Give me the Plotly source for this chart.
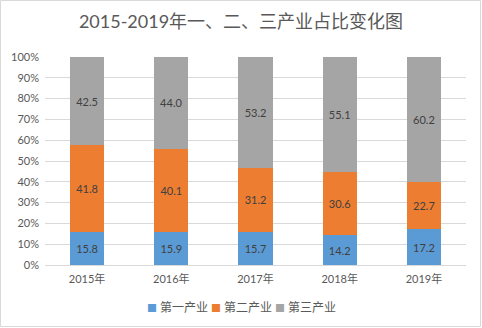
import plotly.graph_objects as go

# Industry share by year (percent)
years = ["2015年", "2016年", "2017年", "2018年", "2019年"]
primary = [15.8, 15.9, 15.7, 14.2, 17.2]
secondary = [41.8, 40.1, 31.2, 30.6, 22.7]
tertiary = [42.5, 44.0, 53.2, 55.1, 60.2]
series_names = ["第一产业", "第二产业", "第三产业"]
colors = ["#5B9BD5", "#ED7D31", "#A5A5A5"]

FONT = "Lato, 'Noto Sans CJK SC', sans-serif"

fig = go.Figure()
for name, vals, col in zip(series_names, [primary, secondary, tertiary], colors):
    fig.add_trace(go.Bar(
        x=years, y=vals, name=name,
        marker=dict(color=col, line=dict(width=0)),
        text=[f"{v:.1f}" for v in vals],
        textposition="inside",
        insidetextanchor="middle",
        textfont=dict(family=FONT, size=11, color="#404040"),
        hoverinfo="skip",
    ))

W, H = 482, 328
ml, mr, mt, mb = 45, 16, 57, 63
pw, ph = W - ml - mr, H - mt - mb


def px_x(x):
    return (x - ml) / pw


def px_y(y):
    return (H - mb - y) / ph


fig.update_layout(
    width=W, height=H,
    margin=dict(l=ml, r=mr, t=mt, b=mb, autoexpand=False),
    barmode="stack", barnorm="percent", bargap=0.595,
    paper_bgcolor="white", plot_bgcolor="white",
    font=dict(family=FONT, size=11, color="#595959"),
    title=dict(text="2015-2019年一、二、三产业占比变化图",
               x=0.5, xanchor="center", y=1 - 22 / H, yanchor="middle",
               font=dict(family=FONT, size=18, color="#595959")),
    showlegend=False,
    uniformtext=dict(minsize=8, mode="show"),
)
fig.update_yaxes(range=[0, 100], dtick=10, ticksuffix="%",
                 showgrid=True, gridcolor="#D9D9D9", gridwidth=1,
                 zeroline=False, showline=False, ticks="",
                 ticklabelstandoff=5,
                 tickfont=dict(size=11, color="#595959"))
fig.update_xaxes(showline=True, linecolor="#D9D9D9", linewidth=1, ticks="",
                 ticklabelstandoff=4,
                 tickfont=dict(size=11, color="#595959"))

# legend row: colored square followed by series name
legend_x = [145, 209, 273]
for name, col, lx in zip(series_names, colors, legend_x):
    fig.add_annotation(
        xref="paper", yref="paper", x=px_x(lx), y=px_y(307),
        xanchor="left", yanchor="middle", showarrow=False,
        text=f"<span style='color:{col};font-size:10px'>■</span> {name}",
        font=dict(family=FONT, size=12, color="#595959"),
    )

# outer chart border
fig.add_shape(type="rect", xref="paper", yref="paper",
              x0=px_x(0.5), x1=px_x(W - 1.5),
              y0=px_y(H - 1.5), y1=px_y(0.5),
              line=dict(color="#D9D9D9", width=1), layer="below")

fig.write_html("out.html")
